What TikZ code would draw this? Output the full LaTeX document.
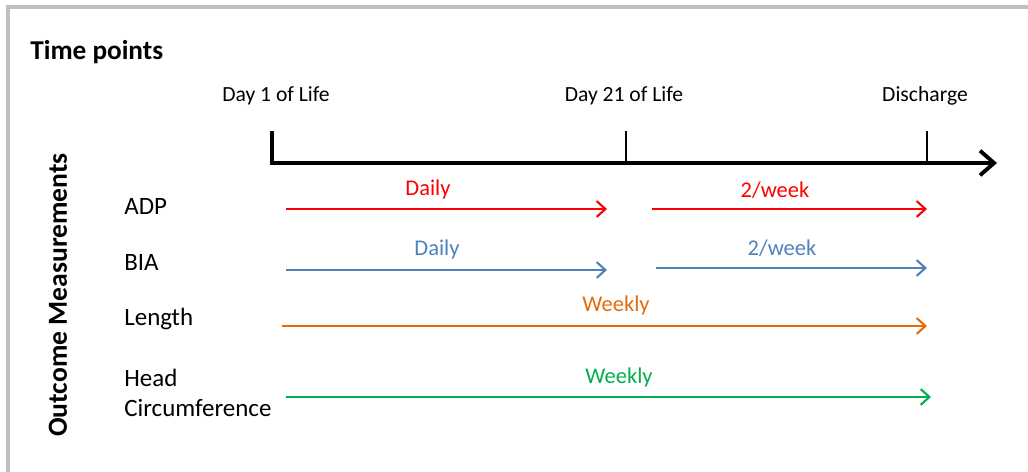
\documentclass[tikz,border=0pt]{standalone}
\usepackage{fontspec}
\setmainfont{Carlito}
\usetikzlibrary{arrows.meta}
\definecolor{admred}{HTML}{FF0000}
\definecolor{biablue}{HTML}{4F81BD}
\definecolor{lenorange}{HTML}{E46C0A}
\definecolor{hcgreen}{HTML}{00B050}
\begin{document}
\begin{tikzpicture}[x=0.02cm, y=-0.02cm,
    lbl/.style={font=\fontsize{12.3}{14}\selectfont, inner sep=0pt},
    frq/.style={font=\fontsize{12.8}{14}\selectfont, inner sep=0pt},
    meas/.style={font=\fontsize{14.2}{17}\selectfont, inner sep=0pt, anchor=west, align=left},
    freq/.style={line width=1.2pt, -{Straight Barb[length=5pt, width=9pt, line width=1.2pt]}}]
    \useasboundingbox (0,0) rectangle (1028,472);
    \clip (0,0) rectangle (1028,472);

    % --- Frame ---
    \draw[line width=2.4pt, gray!50] (8,7) rectangle (1100,540);

    % --- Titles ---
    \node[inner sep=0pt, font=\fontsize{15.5}{18}\bfseries\selectfont, anchor=west] (title) at (30,52) {Time points};
    \node[inner sep=0pt, font=\fontsize{15.7}{18}\bfseries\selectfont, rotate=90] (outcome) at (58,295) {Outcome Measurements};

    % --- Time axis ---
    \node[lbl] (day1) at (276,96) {Day 1 of Life};
    \node[lbl] (day21) at (624,96) {Day 21 of Life};
    \node[lbl] (disch) at (925,96) {Discharge};
    \coordinate (t1) at (272,131);
    \coordinate (t2) at (626,131);
    \coordinate (t3) at (927,131);
    \coordinate (axend) at (997,163);
    \draw[line width=2.2pt, -{Straight Barb[length=8pt, width=14pt, line width=2.2pt]}]
        (t1) -- (t1 |- axend) -- (axend);
    \draw[line width=1.3pt] (t2) -- (t2 |- axend);
    \draw[line width=1.3pt] (t3) -- (t3 |- axend);

    % --- Measurement labels ---
    \node[meas] (adp) at (124,207) {ADP};
    \node[meas] (bia) at (124,263) {BIA};
    \node[meas] (len) at (124,319) {Length};
    \node[meas] (hc) at (124,393) {Head\\Circumference};

    % --- ADP ---
    \coordinate (a1) at (286,209);
    \coordinate (a2) at (607,209);
    \coordinate (a3) at (652,209);
    \coordinate (a4) at (927,209);
    \draw[freq, admred] (a1) -- (a2);
    \draw[freq, admred] (a3) -- (a4);
    \node[frq, text=admred] (adpdaily) at (428,190) {Daily};
    \node[frq, text=admred] (adpweek) at (775,190) {2/week};

    % --- BIA ---
    \coordinate (b1) at (286,270);
    \coordinate (b2) at (607,270);
    \coordinate (b3) at (656,268);
    \coordinate (b4) at (927,268);
    \draw[freq, biablue] (b1) -- (b2);
    \draw[freq, biablue] (b3) -- (b4);
    \node[frq, text=biablue] (biadaily) at (437,250) {Daily};
    \node[frq, text=biablue] (biaweek) at (782,248) {2/week};

    % --- Length ---
    \coordinate (l1) at (282,326);
    \coordinate (l2) at (927,326);
    \draw[freq, lenorange] (l1) -- (l2);
    \node[frq, text=lenorange] (lenweek) at (616,306) {Weekly};

    % --- Head circumference ---
    \coordinate (h1) at (286,397);
    \coordinate (h2) at (931,397);
    \draw[freq, hcgreen] (h1) -- (h2);
    \node[frq, text=hcgreen] (hcweek) at (619,378) {Weekly};
\end{tikzpicture}
\end{document}
